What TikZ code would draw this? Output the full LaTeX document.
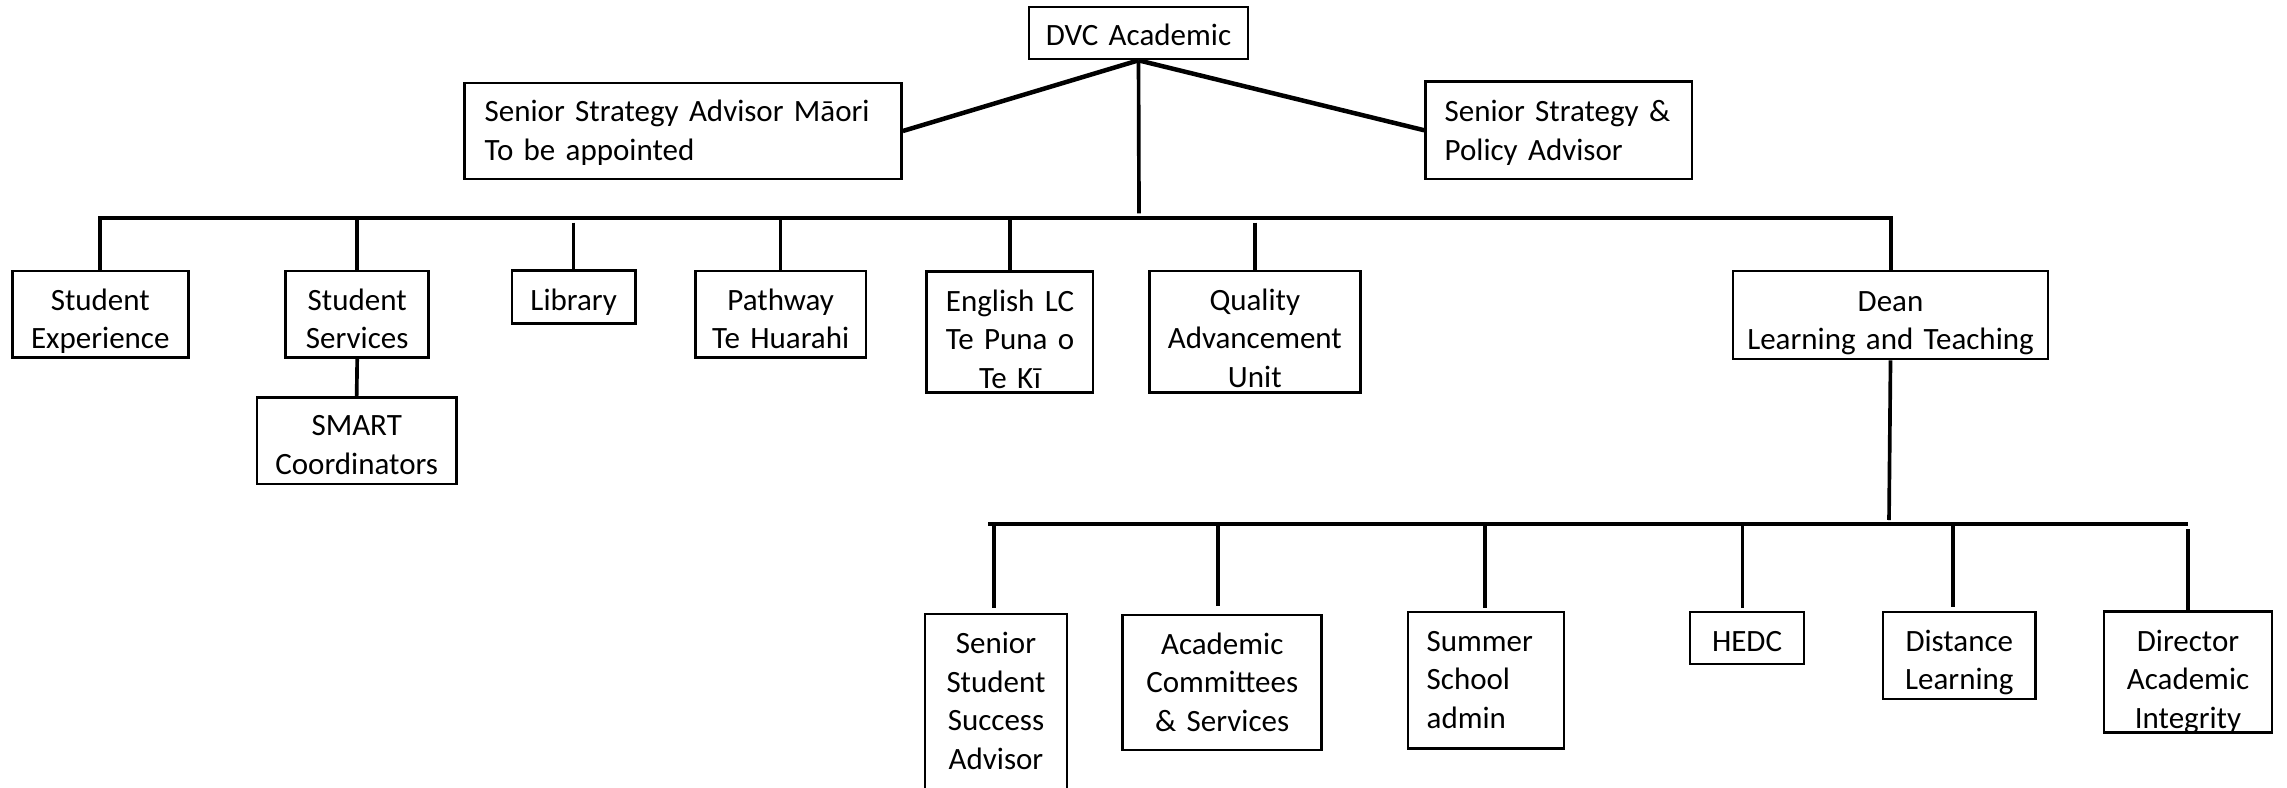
\documentclass[tikz,border=0pt]{standalone}
\usepackage{fontspec}
\setmainfont{Carlito}
\usetikzlibrary{fit}
\tikzset{
  box/.style={draw, line width=0.8pt, inner sep=0pt},
  ctext/.style={inner sep=0pt, anchor=base, align=center, text width=110pt,
    font=\fontsize{9.3}{11.65}\selectfont},
  ltext/.style={inner sep=0pt, anchor=base west, align=left, text width=140pt,
    font=\fontsize{9.3}{11.65}\selectfont},
  conn/.style={line width=1.1pt},
  diag/.style={line width=1.35pt},
  busline/.style={line width=1.2pt}
}
\begin{document}
\begin{tikzpicture}[x=0.3pt, y=-0.3pt]
\useasboundingbox (0,0) rectangle (2287,787);
\clip (0,0) rectangle (2287,787);

% ---------- boxes ----------
\node[box, fit={(1029,7) (1248,59)}] (dvc) {};
\node[box, fit={(464.5,83) (901.5,179)}] (maori) {};
\node[box, fit={(1425.5,81.5) (1692,179)}] (policy) {};

\node[box, fit={(12.3,271) (188.3,357.7)}] (sexp) {};
\node[box, fit={(285.7,271) (428.7,357.7)}] (sserv) {};
\node[box, fit={(257,397.3) (456.3,484)}] (smart) {};
\node[box, fit={(512,270.7) (635.3,323.3)}] (lib) {};
\node[box, fit={(695.3,271) (866,357.7)}] (path) {};
\node[box, fit={(926.7,271.5) (1093,392.7)}] (eng) {};
\node[box, fit={(1149.3,271) (1360.3,392.7)}] (qual) {};
\node[box, fit={(1733,271) (2048,359)}] (dean) {};

\node[box, fit={(925,614) (1067,810)}] (sssa) {};
\node[box, fit={(1122.7,615) (1321.7,750)}] (acs) {};
\node[box, fit={(1408,612) (1564,748.3)}] (summer) {};
\node[box, fit={(1690,612) (1804,664)}] (hedc) {};
\node[box, fit={(1883,612) (2035.7,699)}] (dist) {};
\node[box, fit={(2104,611.7) (2272,732.7)}] (dir) {};

% ---------- texts ----------
\node[ctext] (dvc-t) at (1138.5,45.7) {DVC Academic};
\node[ltext] (maori-t) at (484,121.7) {Senior Strategy Advisor Māori\\To be appointed};
\node[ltext] (policy-t) at (1444,121.5) {Senior Strategy \&\\Policy Advisor};
\node[ctext] (sexp-t) at (100.3,310) {Student\\Experience};
\node[ctext] (sserv-t) at (357.2,310) {Student\\Services};
\node[ctext] (smart-t) at (356.7,435.7) {SMART\\Coordinators};
\node[ctext] (lib-t) at (573.7,310) {Library};
\node[ctext] (path-t) at (780.7,310) {Pathway\\Te Huarahi};
\node[ctext] (eng-t) at (1010,311) {English LC\\Te Puna o\\Te Kī};
\node[ctext] (qual-t) at (1254.8,310) {Quality\\Advancement\\Unit};
\node[ctext] (dean-t) at (1890.5,311) {Dean\\Learning and Teaching};
\node[ctext] (sssa-t) at (996,653.3) {Senior\\Student\\Success\\Advisor};
\node[ctext] (acs-t) at (1222.2,654) {Academic\\Committees\\\& Services};
\node[ltext] (summer-t) at (1426,651) {Summer\\School\\admin};
\node[ctext] (hedc-t) at (1747,651) {HEDC};
\node[ctext] (dist-t) at (1959.3,651) {Distance\\Learning};
\node[ctext] (dir-t) at (2188,651) {Director\\Academic\\Integrity};

% ---------- helper coordinates ----------
\coordinate (busY) at (0,218);
\coordinate (gapY) at (0,222.7);
\coordinate (trunkEnd) at (1139,213.3);
\coordinate (deanEnd) at (1889,520);
\coordinate (b2L) at (988,524);
\coordinate (b2R) at (2188,524);
\coordinate (sssaTop) at (994,524);
\coordinate (acsTop) at (1217.7,524);
\coordinate (summerTop) at (1485,524);
\coordinate (hedcTop) at (1742.6,524);
\coordinate (distTop) at (1953,524);
\coordinate (dirTop) at (2188,529);

% ---------- connectors ----------
\draw[diag] (dvc.south) -- (maori.east);
\draw[diag] (dvc.south) -- (policy.west);
\draw[conn] (dvc.south) -- (trunkEnd);

\draw[busline] (sexp.north) -- (sexp.north |- busY) -- (dean.north |- busY) -- (dean.north);
\draw[conn] (sserv.north |- busY) -- (sserv.north);
\draw[conn] (lib.north |- gapY) -- (lib.north);
\draw[conn] (path.north |- busY) -- (path.north);
\draw[conn] (eng.north |- busY) -- (eng.north);
\draw[conn] (qual.north |- gapY) -- (qual.north);
\draw[conn] (sserv.south) -- (smart.north);

\draw[conn] (dean.south) -- (deanEnd);
\draw[busline] (b2L) -- (b2R);
\draw[conn, shorten >=1.5pt] (sssaTop) -- (sssaTop |- sssa.north);
\draw[conn, shorten >=2.4pt] (acsTop) -- (acsTop |- acs.north);
\draw[conn, shorten >=0.9pt] (summerTop) -- (summerTop |- summer.north);
\draw[conn, shorten >=0.9pt] (hedcTop) -- (hedcTop |- hedc.north);
\draw[conn, shorten >=1.2pt] (distTop) -- (distTop |- dist.north);
\draw[conn] (dirTop) -- (dir.north);
\end{tikzpicture}
\end{document}
